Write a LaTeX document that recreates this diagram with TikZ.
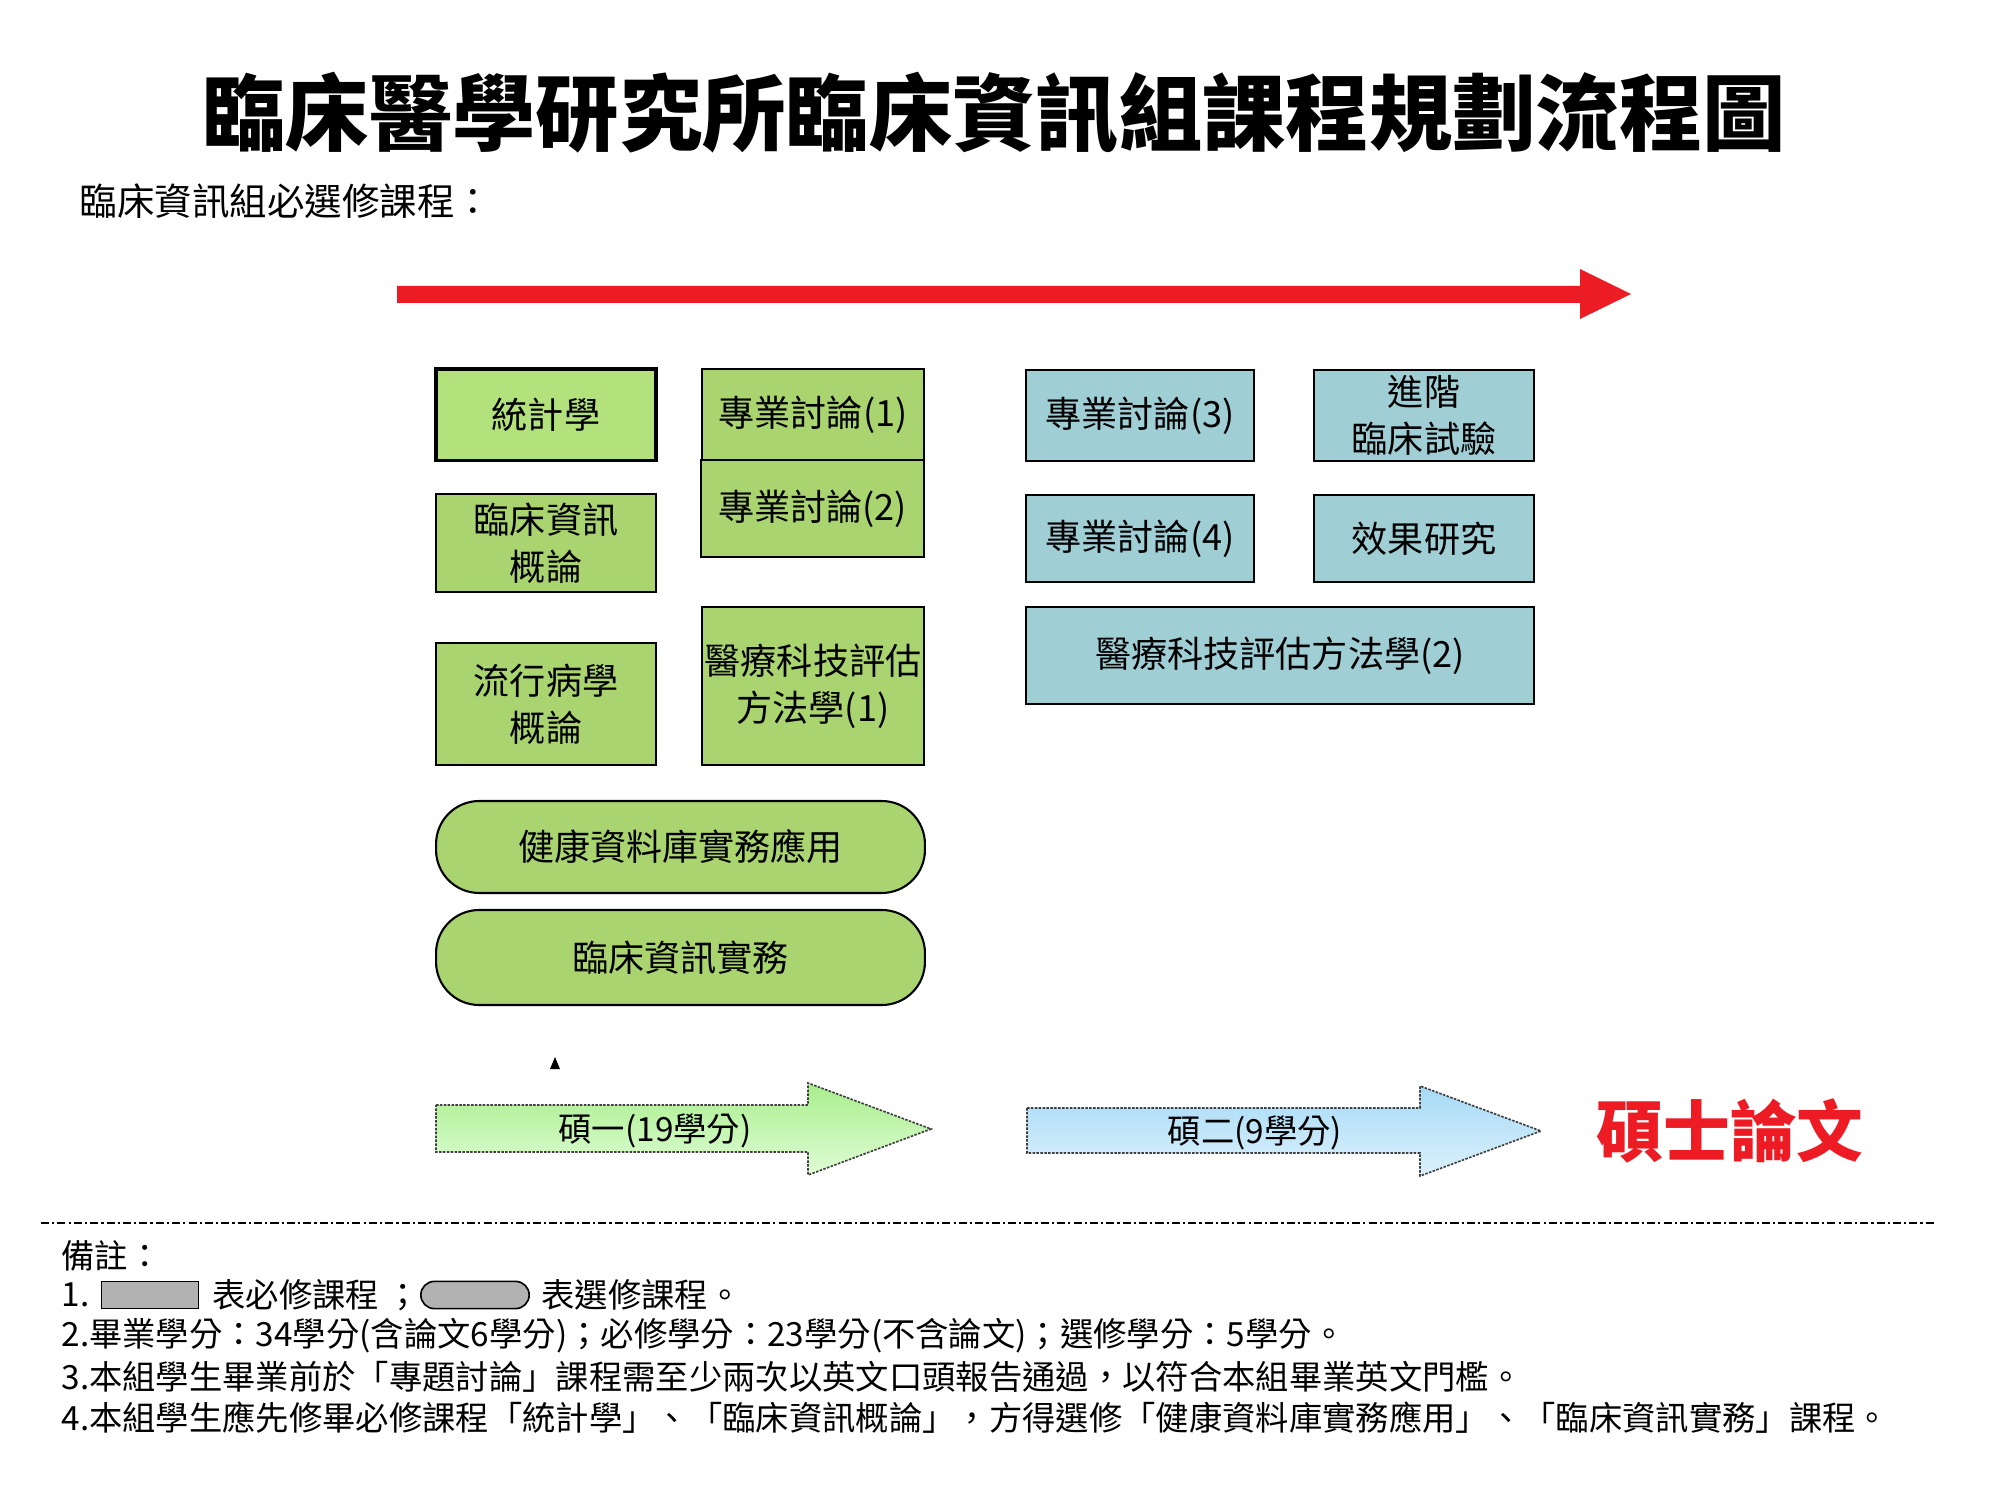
\documentclass[tikz,border=0pt]{standalone}
\usepackage{fontspec}
\setmainfont{Noto Sans CJK TC}
\definecolor{reqgreen}{RGB}{169,212,111}
\definecolor{statgreen}{RGB}{179,226,124}
\definecolor{optblue}{RGB}{160,206,213}
\definecolor{flowred}{RGB}{237,28,36}
\definecolor{keygray}{RGB}{178,178,178}
\begin{document}
\begin{tikzpicture}[x=0.36pt,y=-0.36pt,
  course/.style={draw=black,line width=0.75pt,inner sep=0pt,align=center,font=\fontsize{13}{17}\selectfont},
  greenbox/.style={course,fill=reqgreen},
  bluebox/.style={course,fill=optblue},
  electbox/.style={greenbox,rounded corners=15.5pt},
  yeararrow/.style={draw=black!75,line width=0.6pt,dash pattern=on 0.9pt off 0.5pt},
  yearlabel/.style={inner sep=0pt,font=\fontsize{12}{14}\selectfont},
  notetext/.style={anchor=west,inner sep=0pt,font=\fontsize{12}{14}\selectfont},
  keybox/.style={draw=black,line width=0.6pt,fill=keygray,inner sep=0pt,minimum width=35pt,minimum height=9.8pt},
]
%set diagram to the page size
\path[fill=white,use as bounding box] (0,0) rectangle (2000,1500);

% Text Node
\node (title) at (994,113) [inner sep=0pt,font=\fontsize{30}{34}\bfseries] {臨床醫學研究所臨床資訊組課程規劃流程圖};
% Text Node
\node (subtitle) at (79,201) [anchor=west,inner sep=0pt,font=\fontsize{13.5}{16}\selectfont] {臨床資訊組必選修課程：};

%Shape: Right Arrow
\fill[flowred] (397,286) -- (1580,286) -- (1580,269) -- (1631,294) -- (1580,319) -- (1580,303) -- (397,303) -- cycle ;

%Shape: Rectangle (year one)
\node (stat) at (546,415) [greenbox,fill=statgreen,line width=1.1pt,minimum width=79.2pt,minimum height=33.1pt] {統計學};
\node (sem1) at (813,414.5) [greenbox,minimum width=79.9pt,minimum height=32.8pt] {專業討論(1)};
\node (sem2) at (812.5,508.5) [greenbox,minimum width=80.3pt,minimum height=34.9pt] {專業討論(2)};
\node (clininfo) at (546,543) [greenbox,minimum width=79.2pt,minimum height=35.3pt] {臨床資訊\\概論};
\node (epi) at (546,704) [greenbox,minimum width=79.2pt,minimum height=43.9pt] {流行病學\\概論};
\node (htaone) at (813,686) [greenbox,minimum width=79.9pt,minimum height=56.9pt] {醫療科技評估\\方法學(1)};
%Shape: Rounded Rectangle
\node (healthdb) at (680.5,847) [electbox,minimum width=176pt,minimum height=33.1pt] {健康資料庫實務應用};
\node (clinprac) at (680.5,957.5) [electbox,minimum width=176pt,minimum height=34.2pt] {臨床資訊實務};

%Shape: Rectangle (year two)
\node (sem3) at (1140,415.5) [bluebox,minimum width=82.1pt,minimum height=32.8pt] {專業討論(3)};
\node (trial) at (1424,415.5) [bluebox,minimum width=79.2pt,minimum height=32.8pt] {進階\\臨床試驗};
\node (sem4) at (1140,538.5) [bluebox,minimum width=82.1pt,minimum height=31.3pt] {專業討論(4)};
\node (outcome) at (1424,538.5) [bluebox,minimum width=79.2pt,minimum height=31.3pt] {效果研究};
\node (htatwo) at (1280,655.5) [bluebox,minimum width=182.9pt,minimum height=34.9pt] {醫療科技評估方法學(2)};

%Shape: Triangle
\fill (550,1069) -- (560,1069) -- (555,1057) -- cycle ;

%Shape: Right Arrow
\shadedraw[yeararrow,top color={rgb,255:red,168;green,238;blue,140},bottom color={rgb,255:red,224;green,253;blue,214}] (436,1105) -- (808,1105) -- (808,1083) -- (931,1129) -- (808,1175) -- (808,1152) -- (436,1152) -- cycle ;
\node (yearone) at (655,1131) [yearlabel] {碩一(19學分)};
%Shape: Right Arrow
\shadedraw[yeararrow,top color={rgb,255:red,166;green,218;blue,246},bottom color={rgb,255:red,220;green,241;blue,252}] (1027,1108) -- (1420,1108) -- (1420,1086) -- (1541,1131) -- (1420,1176) -- (1420,1153) -- (1027,1153) -- cycle ;
\node (yeartwo) at (1255,1133) [yearlabel] {碩二(9學分)};
% Text Node
\node (thesis) at (1730,1131) [inner sep=0pt,text=flowred,font=\fontsize{24}{28}\bfseries] {碩士論文};

%Straight Lines
\draw[line width=0.5pt,dash pattern=on 2.9pt off 1.1pt on 0.8pt off 1.1pt] (41,1223) -- (1936,1223) ;

% Text Node
\node (notes) at (61,1256) [notetext] {備註：};
\node (noteone) at (61,1295) [notetext] {1.};
\node (reqkey) at (150,1295) [keybox] {};
\node (reqtext) at (212,1295) [notetext] {表必修課程 ；};
\node (optkey) at (475,1295) [keybox,minimum width=39pt,rounded corners=4.9pt] {};
\node (opttext) at (541,1295) [notetext] {表選修課程。};
\node (notetwo) at (61,1336) [notetext] {2.畢業學分：34學分(含論文6學分)；必修學分：23學分(不含論文)；選修學分：5學分。};
\node (notethree) at (61,1377) [notetext] {3.本組學生畢業前於「專題討論」課程需至少兩次以英文口頭報告通過，以符合本組畢業英文門檻。};
\node (notefour) at (61,1418) [notetext] {4.本組學生應先修畢必修課程「統計學」、「臨床資訊概論」，方得選修「健康資料庫實務應用」、「臨床資訊實務」課程。};

\end{tikzpicture}
\end{document}
